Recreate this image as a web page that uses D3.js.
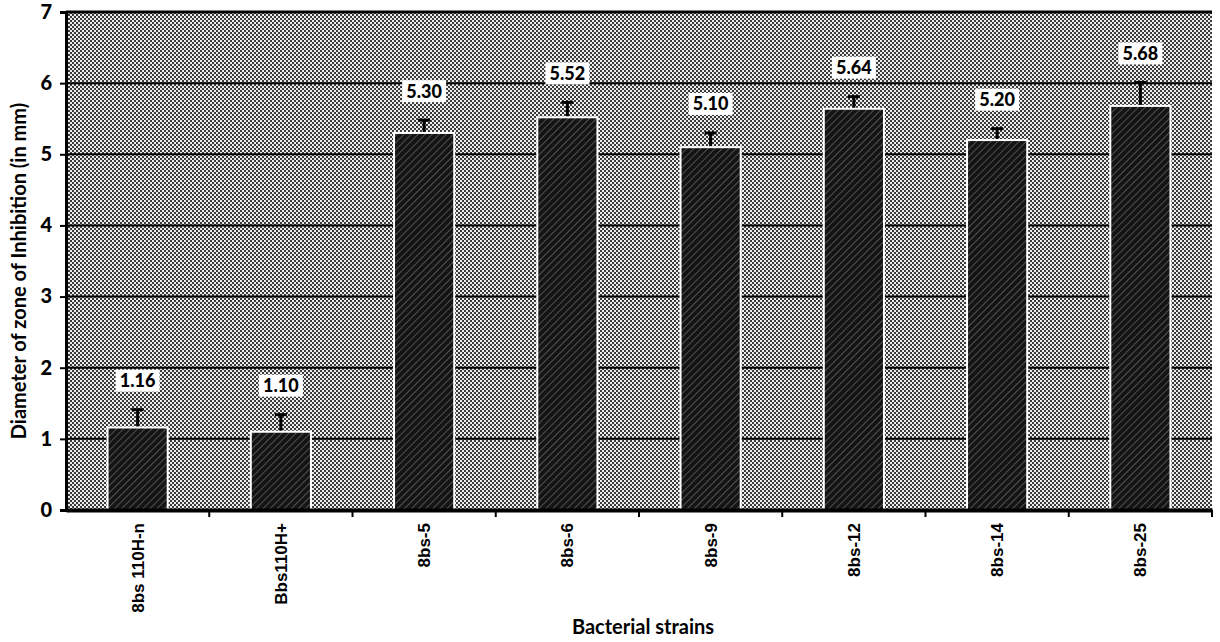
<!DOCTYPE html>
<html>
<head>
<meta charset="utf-8">
<script src="https://cdn.jsdelivr.net/npm/d3@7"></script>
<style>
  body { margin: 0; background: #fff; }
  text { font-family: Lato, "Open Sans", sans-serif; }
</style>
</head>
<body>
<script>
// strains on the x axis
var strains = ["8bs 110H-n", "Bbs110H+", "8bs-5", "8bs-6", "8bs-9", "8bs-12", "8bs-14", "8bs-25"];
// mean zone diameter (mm)
var means = [1.16, 1.10, 5.30, 5.52, 5.10, 5.64, 5.20, 5.68];
// upper error (sd)
var errors = [0.25, 0.24, 0.18, 0.21, 0.20, 0.17, 0.16, 0.33];
// printed labels
var labels = ["1.16", "1.10", "5.30", "5.52", "5.10", "5.64", "5.20", "5.68"];
var yTicks = [0, 1, 2, 3, 4, 5, 6, 7];

w = 1220;
h = 642;
margin = {top: 12, right: 8, bottom: 132, left: 66};
width = w - margin.left - margin.right;
height = h - margin.top - margin.bottom;

var svg = d3.select("body")
  .append("svg")
  .attr("width", w)
  .attr("height", h);

// patterns: dithered background + hatched bars
var defs = svg.append("defs");
var bg = defs.append("pattern")
  .attr("id", "dither")
  .attr("width", 4).attr("height", 4)
  .attr("patternUnits", "userSpaceOnUse");
bg.append("rect").attr("width", 4).attr("height", 4).attr("fill", "#ececec");
bg.append("rect").attr("x", 0).attr("y", 0).attr("width", 2).attr("height", 2).attr("fill", "#3a3a3a");
bg.append("rect").attr("x", 2).attr("y", 2).attr("width", 2).attr("height", 2).attr("fill", "#3a3a3a");

var hatch = defs.append("pattern")
  .attr("id", "hatch")
  .attr("width", 5).attr("height", 5)
  .attr("patternUnits", "userSpaceOnUse")
  .attr("patternTransform", "rotate(45)");
hatch.append("rect").attr("width", 5).attr("height", 5).attr("fill", "#141414");
hatch.append("line")
  .attr("x1", 0).attr("y1", 0).attr("x2", 0).attr("y2", 5)
  .attr("stroke", "#7a7a7a").attr("stroke-width", 1.2);

var g = svg.append("g")
  .attr("transform", "translate(" + margin.left + "," + margin.top + ")");

x = d3.scaleBand()
  .domain(strains)
  .range([0, width])
  .paddingInner(0.58)
  .paddingOuter(0.29);

y = d3.scaleLinear()
  .domain([0, 7])
  .range([height, 0]);

// plot background
g.append("rect")
  .attr("width", width)
  .attr("height", height)
  .attr("fill", "url(#dither)");

// horizontal grid lines
g.append("g")
  .selectAll("line")
  .data(yTicks.slice(1))
  .join("line")
    .attr("x1", 0).attr("x2", width)
    .attr("y1", function(d) { return y(d); })
    .attr("y2", function(d) { return y(d); })
    .attr("stroke", "#000")
    .attr("stroke-width", function(d) { return d == 7 ? 3 : 2; });

var data = strains.map(function(s, i) {
  return {name: s, mean: means[i], err: errors[i], label: labels[i]};
});

// error bars (upper half only)
var eb = g.append("g").selectAll("g")
  .data(data)
  .join("g")
    .attr("transform", function(d) { return "translate(" + (x(d.name) + x.bandwidth() / 2) + ",0)"; });
eb.append("line")
  .attr("y1", function(d) { return y(d.mean); })
  .attr("y2", function(d) { return y(d.mean + d.err); })
  .attr("stroke", "#000").attr("stroke-width", 3);
eb.append("line")
  .attr("x1", -6).attr("x2", 6)
  .attr("y1", function(d) { return y(d.mean + d.err); })
  .attr("y2", function(d) { return y(d.mean + d.err); })
  .attr("stroke", "#000").attr("stroke-width", 3);

// bars
g.append("g")
  .selectAll("rect")
  .data(data)
  .join("rect")
    .attr("x", function(d) { return x(d.name); })
    .attr("y", function(d) { return y(d.mean); })
    .attr("width", x.bandwidth())
    .attr("height", function(d) { return height - y(d.mean); })
    .attr("fill", "url(#hatch)")
    .attr("stroke", "#fff")
    .attr("stroke-width", 2);

// value labels in white boxes
var lab = g.append("g").selectAll("g")
  .data(data)
  .join("g")
    .attr("transform", function(d) {
      return "translate(" + (x(d.name) + x.bandwidth() / 2) + "," + (y(d.mean + d.err) - 29) + ")";
    });
lab.append("rect")
  .attr("x", -22).attr("y", -11)
  .attr("width", 44).attr("height", 22)
  .attr("fill", "#fff");
lab.append("text")
  .attr("text-anchor", "middle")
  .attr("dy", "0.36em")
  .style("font-size", "18px")
  .style("font-weight", "900")
  .text(function(d) { return d.label; });

// y axis
var yAxis = g.append("g")
  .call(d3.axisLeft(y).tickValues(yTicks).tickFormat(d3.format("d")).tickSize(6).tickPadding(8));
yAxis.select(".domain").attr("stroke-width", 3);
yAxis.selectAll(".tick line").attr("stroke-width", 2);
yAxis.selectAll("text")
  .style("font-size", "20px")
  .style("font-weight", "900")
  .attr("fill", "#000");

// x axis, ticks at category boundaries
var xAxis = g.append("g")
  .attr("transform", "translate(0," + height + ")")
  .call(d3.axisBottom(x).tickSize(0).tickPadding(0));
xAxis.select(".domain").attr("stroke-width", 4);
xAxis.selectAll("text")
  .attr("transform", "rotate(-90)")
  .attr("x", -13)
  .attr("y", 0)
  .attr("dy", "0.35em")
  .attr("text-anchor", "end")
  .attr("fill", "#000")
  .style("font-family", "'Liberation Sans Narrow', 'Liberation Sans', sans-serif")
  .style("font-size", "17px")
  .style("font-weight", "bold");
g.append("g")
  .selectAll("line")
  .data(strains)
  .join("line")
    .attr("x1", function(d) { return x(d) + x.bandwidth() / 2 + x.step() / 2; })
    .attr("x2", function(d) { return x(d) + x.bandwidth() / 2 + x.step() / 2; })
    .attr("y1", height).attr("y2", height + 7)
    .attr("stroke", "#000").attr("stroke-width", 2);

// axis titles
svg.append("text")
  .attr("transform", "translate(26," + (margin.top + height / 2 + 10) + ") rotate(-90)")
  .attr("text-anchor", "middle")
  .style("font-size", "20px")
  .style("font-weight", "bold")
  .text("Diameter of zone of Inhibition (in mm)");

svg.append("text")
  .attr("x", 643)
  .attr("y", 634)
  .attr("text-anchor", "middle")
  .style("font-size", "20px")
  .style("font-weight", "bold")
  .text("Bacterial strains");
</script>
</body>
</html>
